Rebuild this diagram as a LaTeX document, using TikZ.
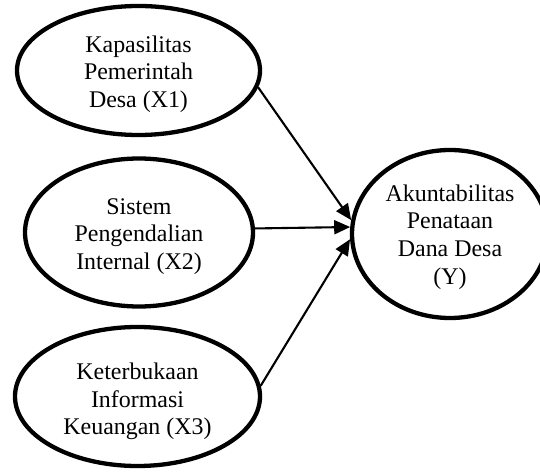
\documentclass[tikz,border=0pt]{standalone}
\usepackage{fontspec}
\setmainfont{Liberation Serif}
\usetikzlibrary{shapes.geometric,arrows.meta}
\tikzset{
  oval/.style={ellipse, draw, line width=4.3bp, inner sep=0pt},
  lbl/.style={align=center, inner sep=0pt, font=\fontsize{24}{27.8}\selectfont},
  conn/.style={line width=2.1bp, -{Triangle[length=16bp,width=14bp]}}
}
\begin{document}
\begin{tikzpicture}[x=1bp,y=-1bp]
\useasboundingbox (0,0) rectangle (540,472);
\clip (0,0) rectangle (540,472);
\node[oval, minimum width=243bp, minimum height=129bp] (e1) at (138.5,70.5) {};
\node[oval, minimum width=228bp, minimum height=148bp] (e2) at (139,232.5) {};
\node[oval, minimum width=245bp, minimum height=139bp] (e3) at (137.5,396.5) {};
\node[oval, minimum width=196bp, minimum height=168bp] (y) at (450,234) {};
\node[lbl, yshift=-3.5bp] (t1) at (e1.center) {Kapasilitas\\Pemerintah\\Desa (X1)};
\node[lbl, yshift=-4bp] (t2) at (e2.center) {Sistem\\Pengendalian\\Internal (X2)};
\node[lbl, yshift=-5bp] (t3) at (e3.center) {Keterbukaan\\Informasi\\Keuangan (X3)};
\node[lbl, yshift=-3bp] (ty) at (y.center) {Akuntabilitas\\Penataan\\Dana Desa\\(Y)};
\draw[conn] (e1.-8.4) -- (y.172.5);
\draw[conn] (e2.2) -- (y.176.5);
\draw[conn] (e3.5.5) -- (y.183);
\end{tikzpicture}
\end{document}
